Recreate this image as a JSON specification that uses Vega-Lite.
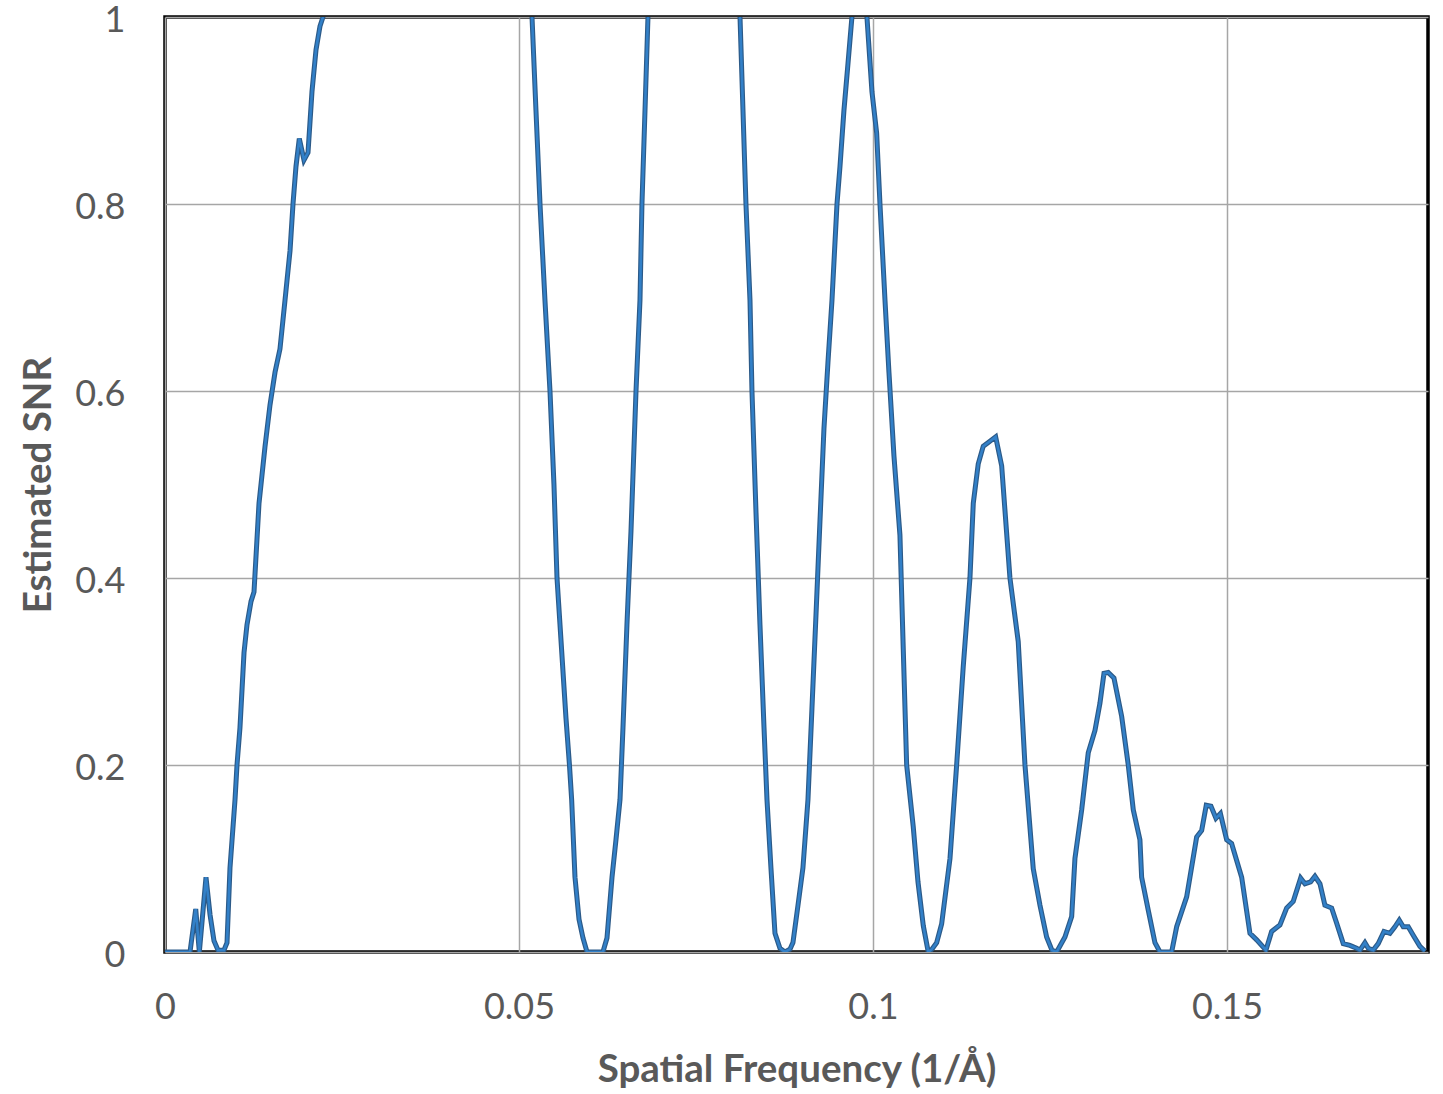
{
  "$schema": "https://vega.github.io/schema/vega-lite/v6.json",
  "width": 1263,
  "height": 935,
  "autosize": "none",
  "padding": {"left": 165, "top": 17, "right": 15, "bottom": 142},
  "background": "white",
  "config": {
    "view": {"stroke": "black", "strokeWidth": 3.5},
    "font": "Lato",
    "axis": {
      "grid": true,
      "gridColor": "#a6a6a6",
      "gridWidth": 1.5,
      "ticks": false,
      "domain": false,
      "labelFlush": false,
      "labelFont": "Lato",
      "labelFontSize": 36,
      "labelColor": "#595959",
      "titleFont": "Lato",
      "titleFontSize": 38.5,
      "titleFontWeight": "bold",
      "titleColor": "#595959"
    }
  },
  "data": {
    "values": [
      {"f": 0, "snr": 0},
      {"f": 0.00353, "snr": 0},
      {"f": 0.00434, "snr": 0.046},
      {"f": 0.00485, "snr": 0},
      {"f": 0.00579, "snr": 0.08},
      {"f": 0.00636, "snr": 0.04},
      {"f": 0.00692, "snr": 0.012},
      {"f": 0.00749, "snr": 0.002},
      {"f": 0.00833, "snr": 0.002},
      {"f": 0.00876, "snr": 0.01},
      {"f": 0.00918, "snr": 0.09},
      {"f": 0.00989, "snr": 0.163},
      {"f": 0.01017, "snr": 0.2},
      {"f": 0.01059, "snr": 0.24},
      {"f": 0.01116, "snr": 0.32},
      {"f": 0.01158, "snr": 0.35},
      {"f": 0.01215, "snr": 0.375},
      {"f": 0.01257, "snr": 0.385},
      {"f": 0.01328, "snr": 0.48},
      {"f": 0.01412, "snr": 0.54},
      {"f": 0.01483, "snr": 0.585},
      {"f": 0.01554, "snr": 0.62},
      {"f": 0.01624, "snr": 0.645},
      {"f": 0.01695, "snr": 0.697},
      {"f": 0.01766, "snr": 0.75},
      {"f": 0.01808, "snr": 0.8},
      {"f": 0.0185, "snr": 0.84},
      {"f": 0.01897, "snr": 0.87},
      {"f": 0.01963, "snr": 0.847},
      {"f": 0.0202, "snr": 0.855},
      {"f": 0.02076, "snr": 0.92},
      {"f": 0.02133, "snr": 0.965},
      {"f": 0.02189, "snr": 0.99},
      {"f": 0.02232, "snr": 1.0},
      {"f": 0.02331, "snr": 1.04},
      {"f": 0.03602, "snr": 2.0},
      {"f": 0.05099, "snr": 1.04},
      {"f": 0.05184, "snr": 1.0},
      {"f": 0.0524, "snr": 0.9},
      {"f": 0.05297, "snr": 0.8},
      {"f": 0.05367, "snr": 0.697},
      {"f": 0.05438, "snr": 0.6},
      {"f": 0.05494, "snr": 0.5},
      {"f": 0.05537, "snr": 0.4},
      {"f": 0.05664, "snr": 0.25},
      {"f": 0.05713, "snr": 0.2},
      {"f": 0.05744, "snr": 0.163},
      {"f": 0.05791, "snr": 0.08},
      {"f": 0.05848, "snr": 0.035},
      {"f": 0.05904, "snr": 0.015},
      {"f": 0.05961, "snr": 0},
      {"f": 0.06186, "snr": 0},
      {"f": 0.06243, "snr": 0.015},
      {"f": 0.06314, "snr": 0.08},
      {"f": 0.0637, "snr": 0.12},
      {"f": 0.06427, "snr": 0.163},
      {"f": 0.06469, "snr": 0.24},
      {"f": 0.06525, "snr": 0.35},
      {"f": 0.06582, "snr": 0.45},
      {"f": 0.06653, "snr": 0.6},
      {"f": 0.06709, "snr": 0.697},
      {"f": 0.06737, "snr": 0.8},
      {"f": 0.0678, "snr": 0.9},
      {"f": 0.06822, "snr": 1.0},
      {"f": 0.06879, "snr": 1.08},
      {"f": 0.07472, "snr": 2.0},
      {"f": 0.08065, "snr": 1.08},
      {"f": 0.08122, "snr": 1.0},
      {"f": 0.08164, "snr": 0.9},
      {"f": 0.08206, "snr": 0.8},
      {"f": 0.08263, "snr": 0.697},
      {"f": 0.08291, "snr": 0.6},
      {"f": 0.08348, "snr": 0.47},
      {"f": 0.08404, "snr": 0.35},
      {"f": 0.08461, "snr": 0.24},
      {"f": 0.08503, "snr": 0.163},
      {"f": 0.08559, "snr": 0.09},
      {"f": 0.08616, "snr": 0.02},
      {"f": 0.08686, "snr": 0.004},
      {"f": 0.08757, "snr": 0},
      {"f": 0.08828, "snr": 0.003},
      {"f": 0.0887, "snr": 0.01},
      {"f": 0.08941, "snr": 0.05},
      {"f": 0.09011, "snr": 0.09},
      {"f": 0.09082, "snr": 0.163},
      {"f": 0.09138, "snr": 0.26},
      {"f": 0.09195, "snr": 0.36},
      {"f": 0.09251, "snr": 0.46},
      {"f": 0.09308, "snr": 0.56},
      {"f": 0.09364, "snr": 0.63},
      {"f": 0.09421, "snr": 0.697},
      {"f": 0.09492, "snr": 0.8},
      {"f": 0.09534, "snr": 0.84},
      {"f": 0.0959, "snr": 0.9},
      {"f": 0.09647, "snr": 0.95},
      {"f": 0.09703, "snr": 1.0},
      {"f": 0.0976, "snr": 1.05},
      {"f": 0.09816, "snr": 1.07},
      {"f": 0.09873, "snr": 1.04},
      {"f": 0.09915, "snr": 1.0},
      {"f": 0.09986, "snr": 0.92},
      {"f": 0.10052, "snr": 0.876},
      {"f": 0.10099, "snr": 0.8},
      {"f": 0.1017, "snr": 0.697},
      {"f": 0.10226, "snr": 0.62},
      {"f": 0.10297, "snr": 0.53},
      {"f": 0.10381, "snr": 0.446},
      {"f": 0.10428, "snr": 0.324},
      {"f": 0.10476, "snr": 0.2},
      {"f": 0.10569, "snr": 0.134},
      {"f": 0.10636, "snr": 0.075},
      {"f": 0.10711, "snr": 0.028},
      {"f": 0.10781, "snr": 0},
      {"f": 0.10833, "snr": 0.003},
      {"f": 0.109, "snr": 0.01},
      {"f": 0.1097, "snr": 0.03},
      {"f": 0.11088, "snr": 0.1},
      {"f": 0.11182, "snr": 0.2},
      {"f": 0.11275, "snr": 0.305},
      {"f": 0.1137, "snr": 0.4},
      {"f": 0.11417, "snr": 0.48},
      {"f": 0.11487, "snr": 0.522},
      {"f": 0.11558, "snr": 0.541},
      {"f": 0.11629, "snr": 0.545},
      {"f": 0.11733, "snr": 0.551},
      {"f": 0.11818, "snr": 0.52},
      {"f": 0.11935, "snr": 0.4},
      {"f": 0.12052, "snr": 0.332},
      {"f": 0.12147, "snr": 0.2},
      {"f": 0.12264, "snr": 0.089},
      {"f": 0.12359, "snr": 0.05},
      {"f": 0.12453, "snr": 0.016},
      {"f": 0.12528, "snr": 0.002},
      {"f": 0.12595, "snr": 0},
      {"f": 0.12712, "snr": 0.016},
      {"f": 0.12807, "snr": 0.038},
      {"f": 0.12853, "snr": 0.1},
      {"f": 0.12948, "snr": 0.152},
      {"f": 0.13041, "snr": 0.213},
      {"f": 0.13136, "snr": 0.237},
      {"f": 0.13206, "snr": 0.266},
      {"f": 0.13263, "snr": 0.298},
      {"f": 0.13323, "snr": 0.299},
      {"f": 0.13404, "snr": 0.293},
      {"f": 0.13513, "snr": 0.252},
      {"f": 0.13606, "snr": 0.2},
      {"f": 0.13677, "snr": 0.152},
      {"f": 0.13771, "snr": 0.12},
      {"f": 0.13795, "snr": 0.08},
      {"f": 0.13888, "snr": 0.045},
      {"f": 0.13983, "snr": 0.01},
      {"f": 0.14054, "snr": 0},
      {"f": 0.14219, "snr": 0},
      {"f": 0.1429, "snr": 0.027},
      {"f": 0.14431, "snr": 0.059},
      {"f": 0.14572, "snr": 0.123},
      {"f": 0.14643, "snr": 0.13},
      {"f": 0.14708, "snr": 0.157},
      {"f": 0.14774, "snr": 0.156},
      {"f": 0.14845, "snr": 0.143},
      {"f": 0.14908, "snr": 0.148},
      {"f": 0.14996, "snr": 0.12},
      {"f": 0.15066, "snr": 0.116},
      {"f": 0.15208, "snr": 0.08},
      {"f": 0.15325, "snr": 0.02},
      {"f": 0.1542, "snr": 0.013},
      {"f": 0.15551, "snr": 0.002},
      {"f": 0.15631, "snr": 0.022},
      {"f": 0.15749, "snr": 0.029},
      {"f": 0.15843, "snr": 0.047},
      {"f": 0.15936, "snr": 0.054},
      {"f": 0.16041, "snr": 0.079},
      {"f": 0.16102, "snr": 0.073},
      {"f": 0.16182, "snr": 0.075},
      {"f": 0.16243, "snr": 0.081},
      {"f": 0.16314, "snr": 0.073},
      {"f": 0.16384, "snr": 0.05},
      {"f": 0.16479, "snr": 0.047},
      {"f": 0.16549, "snr": 0.031},
      {"f": 0.16643, "snr": 0.009},
      {"f": 0.16737, "snr": 0.007},
      {"f": 0.16832, "snr": 0.004},
      {"f": 0.16879, "snr": 0.002},
      {"f": 0.16949, "snr": 0.01},
      {"f": 0.16996, "snr": 0.004},
      {"f": 0.17066, "snr": 0.002},
      {"f": 0.17137, "snr": 0.009},
      {"f": 0.17218, "snr": 0.022},
      {"f": 0.17302, "snr": 0.02},
      {"f": 0.17373, "snr": 0.027},
      {"f": 0.17434, "snr": 0.034},
      {"f": 0.1749, "snr": 0.027},
      {"f": 0.17561, "snr": 0.027},
      {"f": 0.17631, "snr": 0.018},
      {"f": 0.17726, "snr": 0.006},
      {"f": 0.17797, "snr": 0.001}
    ]
  },
  "encoding": {
    "x": {
      "field": "f",
      "type": "quantitative",
      "scale": {"domain": [0, 0.1784], "nice": false, "zero": false},
      "axis": {
        "values": [0, 0.05, 0.1, 0.15],
        "format": "~g",
        "labelPadding": 38,
        "title": "Spatial Frequency (1/Å)",
        "titlePadding": 26
      }
    },
    "y": {
      "field": "snr",
      "type": "quantitative",
      "scale": {"domain": [0, 1], "nice": false},
      "axis": {
        "values": [0, 0.2, 0.4, 0.6, 0.8, 1],
        "format": "~g",
        "labelPadding": 40,
        "labelOffset": 3,
        "title": "Estimated SNR",
        "titlePadding": 16
      }
    }
  },
  "layer": [
    {"mark": {"type": "line", "clip": true, "color": "#2c5a88", "strokeWidth": 5}},
    {"mark": {"type": "line", "clip": true, "color": "#3280c8", "strokeWidth": 2.6}}
  ]
}
